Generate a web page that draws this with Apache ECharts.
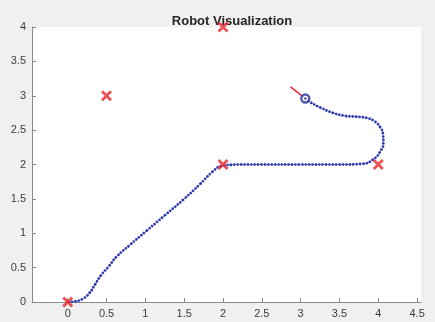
<!DOCTYPE html>
<html>
<head>
<meta charset="utf-8">
<script src="https://cdn.jsdelivr.net/npm/echarts@6/dist/echarts.min.js"></script>
<style>html,body{margin:0;padding:0;background:#f0f0f0}#c{width:435px;height:322px}</style>
</head>
<body>
<div id="c"></div>
<script>
const titleText = 'Robot Visualization';
const xTicks = [0, 0.5, 1, 1.5, 2, 2.5, 3, 3.5, 4, 4.5];
const waypoints = [[0, 0], [0.5, 3], [2, 4], [2, 2], [4, 2]];
const pathPoints = [
  [0, 0], [0.1, 0.01], [0.2, 0.05], [0.28, 0.13], [0.35, 0.25], [0.43, 0.39],
  [0.53, 0.52], [0.63, 0.66], [0.8, 0.83], [1.01, 1.03], [1.25, 1.26], [1.49, 1.49],
  [1.7, 1.71], [1.87, 1.9], [1.98, 1.98], [2.1, 1.995], [2.22, 2.0], [2.5, 2.0],
  [3.0, 2.0], [3.5, 2.0], [3.8, 2.01], [3.93, 2.07], [4.02, 2.18], [4.065, 2.32],
  [4.06, 2.44], [4.02, 2.55], [3.95, 2.63], [3.86, 2.675], [3.72, 2.695], [3.56, 2.71],
  [3.42, 2.75], [3.25, 2.83], [3.12, 2.91], [3.06, 2.96]
];
const robotPose = [[3.06, 2.96]];
const headingLine = [[2.87, 3.13], [3.06, 2.96]];

const chart = echarts.init(document.getElementById('c'), null, {renderer: 'canvas'});
const axisCommon = {
  axisLine: {show: true, onZero: false, lineStyle: {color: '#8a8a8a', width: 1}},
  axisTick: {show: true, inside: true, length: 4, lineStyle: {color: '#8a8a8a'}},
  axisLabel: {color: '#3c3c3c', fontSize: 11, fontFamily: 'Liberation Sans, Arial, sans-serif'},
  splitLine: {show: false}
};
chart.setOption({
  backgroundColor: '#f0f0f0',
  animation: false,
  title: {
    text: titleText, left: 227, top: 10, textAlign: 'center',
    textStyle: {fontSize: 13, fontWeight: 'bold', color: '#262626', fontFamily: 'Liberation Sans, Arial, sans-serif'}
  },
  grid: {left: 32, right: 14, top: 27, bottom: 20, show: true, backgroundColor: '#ffffff', borderWidth: 0},
  xAxis: Object.assign({}, axisCommon, {
    type: 'value', min: -0.46, max: 4.55,
    axisTick: Object.assign({}, axisCommon.axisTick, {customValues: xTicks}),
    axisLabel: Object.assign({}, axisCommon.axisLabel, {customValues: xTicks, margin: 6}),
  }),
  yAxis: Object.assign({}, axisCommon, {
    type: 'value', min: 0, max: 4, interval: 0.5,
    axisLabel: Object.assign({}, axisCommon.axisLabel, {margin: 6}),
  }),
  series: [
    {
      type: 'line', data: pathPoints, smooth: 0.5, showSymbol: false,
      lineStyle: {color: '#5b6bd0', width: 1}, z: 2
    },
    {
      type: 'line', data: pathPoints, smooth: 0.5, showSymbol: false,
      lineStyle: {color: '#2a35a8', width: 2.6, type: [2, 1.4], cap: 'butt'}, z: 3
    },
    {
      type: 'line', data: headingLine, showSymbol: false,
      lineStyle: {color: '#e8262a', width: 1.5}, z: 4
    },
    {
      type: 'scatter', data: robotPose, symbol: 'circle', symbolSize: 8,
      itemStyle: {color: '#ffffff', borderColor: '#25309e', borderWidth: 2.4}, z: 5
    },
    {
      type: 'scatter', data: robotPose, symbol: 'circle', symbolSize: 2.5,
      itemStyle: {color: '#25309e'}, z: 6
    },
    {
      type: 'scatter', data: waypoints, symbol: 'path://M0,0L10,10M10,0L0,10', symbolSize: 9,
      itemStyle: {color: 'transparent', borderColor: '#e8262a', borderWidth: 2.8}, z: 7
    }
  ]
});
</script>
</body>
</html>
